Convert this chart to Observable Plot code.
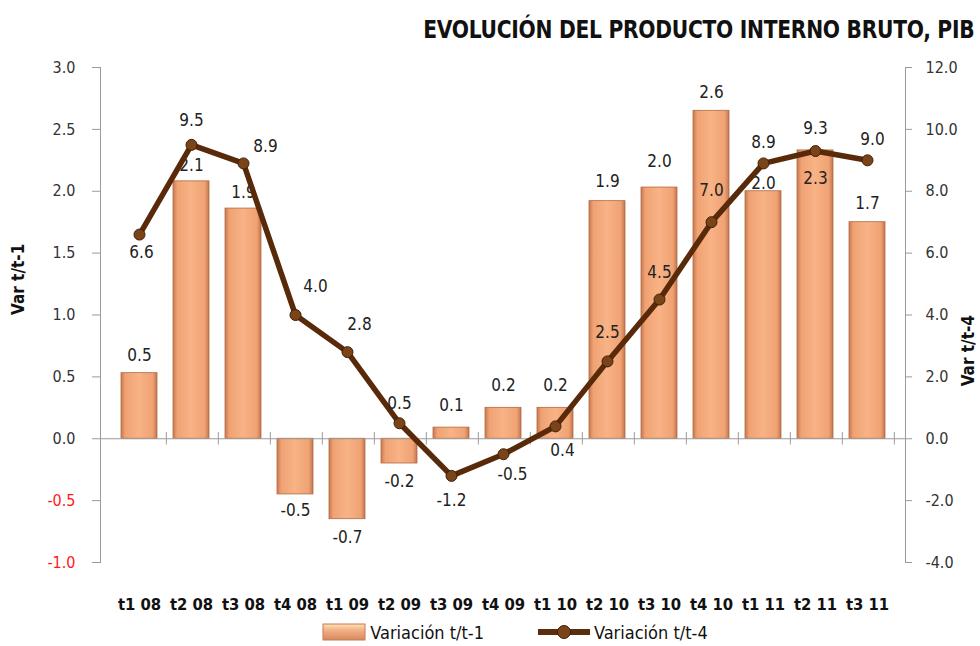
<!DOCTYPE html>
<html>
<head>
<meta charset="utf-8">
<script src="https://cdn.jsdelivr.net/npm/d3@7"></script>
<script src="https://cdn.jsdelivr.net/npm/@observablehq/plot@0.6"></script>
<style>
  body { margin: 0; background: #fff; width: 980px; height: 646px; overflow: hidden; font-family: "Open Sans", "DejaVu Sans", sans-serif; }
  #title { height: 50px; box-sizing: border-box; padding-top: 15px; padding-right: 6px; text-align: right;
           font-family: "DejaVu Sans Condensed", "Open Sans", sans-serif;
           font-weight: bold; font-size: 25px; color: #111; }
  #title span { display: inline-block; transform: scaleX(0.9); transform-origin: right center; letter-spacing: -0.3px; }
  #legend { display: flex; justify-content: center; align-items: center; gap: 54px; height: 30px;
            font-family: "DejaVu Sans Condensed", sans-serif; font-size: 18px; color: #111; margin-left: 50px; }
  .item { display: flex; align-items: center; gap: 4px; }
</style>
</head>
<body>
<div id="title"><span>EVOLUCIÓN DEL PRODUCTO INTERNO BRUTO, PIB</span></div>
<div id="chart"></div>
<div id="legend">
  <div class="item"><svg width="44" height="18"><defs><linearGradient id="lg1" x1="0" x2="0" y1="0" y2="1"><stop offset="0" stop-color="#fde3b8"/><stop offset="0.35" stop-color="#f7b287"/><stop offset="1" stop-color="#d68a5e"/></linearGradient></defs><rect x="1" y="1" width="42" height="16" fill="url(#lg1)" stroke="#c47c52"/></svg><span>Variación t/t-1</span></div>
  <div class="item"><svg width="52" height="18"><line x1="0" x2="52" y1="9" y2="9" stroke="#5a2d0c" stroke-width="6"/><circle cx="26" cy="9" r="6.5" fill="#7a4418" stroke="#3d1f08"/></svg><span>Variación t/t-4</span></div>
</div>
<script>
const categories = ["t1 08","t2 08","t3 08","t4 08","t1 09","t2 09","t3 09","t4 09","t1 10","t2 10","t3 10","t4 10","t1 11","t2 11","t3 11"];
// Variación t/t-1 (bar heights) and shown labels
const varT1 = [0.53, 2.08, 1.86, -0.45, -0.65, -0.2, 0.09, 0.25, 0.25, 1.92, 2.03, 2.65, 2.0, 2.33, 1.75];
const varT1Labels = ["0.5","2.1","1.9","-0.5","-0.7","-0.2","0.1","0.2","0.2","1.9","2.0","2.6","2.0","2.3","1.7"];
// Variación t/t-4 (right axis)
const varT4 = [6.6, 9.5, 8.9, 4.0, 2.8, 0.5, -1.2, -0.5, 0.4, 2.5, 4.5, 7.0, 8.9, 9.3, 9.0];
const leftTicks = [-1.0, -0.5, 0.0, 0.5, 1.0, 1.5, 2.0, 2.5, 3.0];
const rightTicks = [-4.0, -2.0, 0.0, 2.0, 4.0, 6.0, 8.0, 10.0, 12.0];

const ratio = 4; // right axis = 4 x left axis
const bars = categories.map((c, i) => ({cat: c, v: varT1[i], label: varT1Labels[i]}));
const pts = categories.map((c, i) => ({cat: c, v: varT4[i], y: varT4[i] / ratio}));

// label offsets (style)
const barOff = [-18,-16,-16,16,18,18,-22,-22,-22,-20,-26,-18,-8,28,-19];
const lineOff = [[2,18],[0,-24],[22,-17],[20,-28],[12,-28],[0,-20],[0,25],[9,20],[7,24],[0,-29],[0,-27],[0,-32],[0,-21],[0,-22],[5,-21]];

const W = 980, mL = 100, mR = 75;
const step = (W - mL - mR) / categories.length;
const font = "'DejaVu Sans Condensed', sans-serif";

const chart = Plot.plot({
  width: W, height: 567,
  marginTop: 17, marginBottom: 55, marginLeft: mL, marginRight: mR,
  style: {fontFamily: font, fontSize: "16px", color: "#222", background: "#fff"},
  x: {domain: categories, padding: 0.31},
  y: {domain: [-1, 3]},
  marks: [
    Plot.frame({anchor: "left", stroke: "#9a9a9a"}),
    Plot.frame({anchor: "right", stroke: "#9a9a9a"}),
    Plot.barY(bars, {x: "cat", y: "v", fill: "url(#barGrad)", stroke: "#b06a42", strokeWidth: 0.8}),
    Plot.ruleY([0], {stroke: "#9a9a9a", strokeWidth: 1.2}),
    Plot.ruleX(categories, {x: d => d, y1: -0.05, y2: 0.05, dx: step / 2, stroke: "#9a9a9a"}),
    Plot.axisY(leftTicks.filter(d => d >= 0), {anchor: "left", tickSize: 8, tickPadding: 17, stroke: "#9a9a9a", fill: "#333", tickFormat: d => d.toFixed(1), fontSize: 16, label: null}),
    Plot.axisY(leftTicks.filter(d => d < 0), {anchor: "left", tickSize: 8, tickPadding: 17, stroke: "#9a9a9a", fill: "#ff1a1a", tickFormat: d => d.toFixed(1), fontSize: 16, label: null}),
    Plot.axisY(rightTicks.map(d => d / ratio), {anchor: "right", tickSize: 6, tickPadding: 14, stroke: "#9a9a9a", fill: "#333", tickFormat: d => (d * ratio).toFixed(1), fontSize: 16, label: null}),
    Plot.axisX({anchor: "bottom", tickSize: 0, tickPadding: 36, fontWeight: "bold", fontSize: 16.5, fill: "#111", label: null}),
    Plot.text(["Var t/t-1"], {frameAnchor: "left", dx: -82, rotate: -90, fontWeight: "bold", fontSize: 17, fill: "#111"}),
    Plot.text(["Var t/t-4"], {frameAnchor: "right", dx: 63, rotate: -90, fontWeight: "bold", fontSize: 17, fill: "#111"}),
    ...bars.map((d, i) => Plot.text([d], {x: "cat", y: "v", text: "label", dy: barOff[i], fontSize: 17, fill: "#222"})),
    Plot.line(pts, {x: "cat", y: "y", stroke: "#582a09", strokeWidth: 5.5, strokeLinejoin: "round"}),
    Plot.dot(pts, {x: "cat", y: "y", r: 5.5, fill: "#7a4418", stroke: "#3d1f08", strokeWidth: 1}),
    ...pts.map((d, i) => Plot.text([d], {x: "cat", y: "y", text: p => p.v.toFixed(1), dx: lineOff[i][0], dy: lineOff[i][1], fontSize: 17, fill: "#222"}))
  ]
});

// gradient definition for bar fill
const ns = "http://www.w3.org/2000/svg";
const defs = document.createElementNS(ns, "defs");
defs.innerHTML = `<linearGradient id="barGrad" x1="0" x2="1" y1="0" y2="0">
  <stop offset="0" stop-color="#c97a50"/><stop offset="0.12" stop-color="#f0a273"/>
  <stop offset="0.5" stop-color="#f8b386"/><stop offset="0.88" stop-color="#f0a273"/>
  <stop offset="1" stop-color="#c47650"/></linearGradient>`;
chart.insertBefore(defs, chart.firstChild);
document.getElementById("chart").appendChild(chart);
</script>
</body>
</html>
